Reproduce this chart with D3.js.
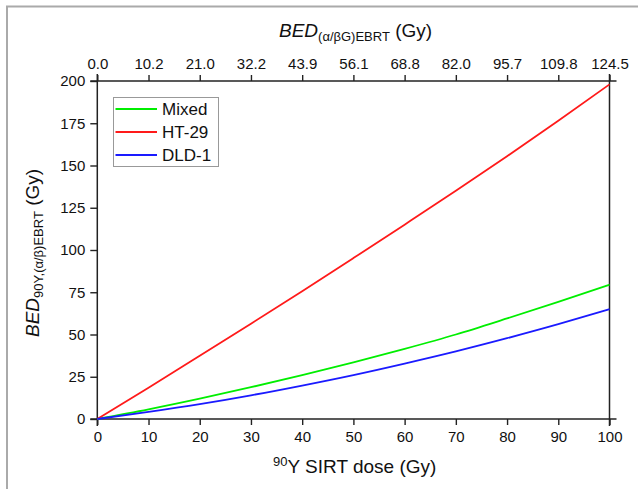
<!DOCTYPE html>
<html>
<head>
<meta charset="utf-8">
<script src="https://cdn.jsdelivr.net/npm/d3@7/dist/d3.min.js"></script>
<style>
body{margin:0;background:#fff;}
svg text{font-family:"Liberation Sans",Arial,sans-serif;fill:#111;}
</style>
</head>
<body>
<svg id="chart" width="638" height="489"></svg>
<script>
const doses = [0,10,20,30,40,50,60,70,80,90,100];
const mixed = [0,5.7,12,18.8,26,33.5,41.5,50,59.5,69.3,79.5];
const ht29  = [0,18.5,37.4,56.4,75.6,95.2,115,135,155.5,176.5,198];
const dld1  = [0,4.2,8.8,14.0,19.8,26,32.8,40,47.8,56.1,65];
const topLabels = ["0.0","10.2","21.0","32.2","43.9","56.1","68.8","82.0","95.7","109.8","124.5"];
const yTicks = [0,25,50,75,100,125,150,175,200];
const seriesNames = ["Mixed","HT-29","DLD-1"];
const seriesColors = ["#00ee00","#ff1a1a","#1a1aff"];
const seriesData = [mixed, ht29, dld1];

const svg = d3.select("#chart");
const L=97.3, R=609.5, T=81, B=419;
const x = d3.scaleLinear().domain([0,100]).range([L,R]);
const y = d3.scaleLinear().domain([0,200]).range([B,T]);

// outer frame
svg.append("path").attr("d","M7,489 L7,6.5 L638,6.5").attr("fill","none").attr("stroke","#aaa").attr("stroke-width",2);

const axisColor="#222";
function styleAxis(g){
  g.select(".domain").remove();
  g.selectAll(".tick line").attr("stroke",axisColor).attr("stroke-width",1.4);
  g.selectAll(".tick text").attr("font-size",15).attr("fill","#111").attr("font-family","Liberation Sans, Arial, sans-serif");
}

// bottom axis
const gb = svg.append("g").attr("transform",`translate(0,${B})`)
  .call(d3.axisBottom(x).tickValues(doses).tickSize(6).tickSizeOuter(0).tickPadding(6));
styleAxis(gb);
// top axis
const gt = svg.append("g").attr("transform",`translate(0,${T})`)
  .call(d3.axisTop(x).tickValues(doses).tickFormat((d,i)=>topLabels[i]).tickSize(6).tickSizeOuter(0).tickPadding(6));
styleAxis(gt);
// left axis
const gl = svg.append("g").attr("transform",`translate(${L},0)`)
  .call(d3.axisLeft(y).tickValues(yTicks).tickSize(7).tickSizeOuter(0).tickPadding(5));
styleAxis(gl);

// axis lines
svg.append("line").attr("x1",L-7).attr("x2",R+7).attr("y1",B).attr("y2",B).attr("stroke",axisColor).attr("stroke-width",1.5);
svg.append("line").attr("x1",L-7).attr("x2",R+7).attr("y1",T).attr("y2",T).attr("stroke",axisColor).attr("stroke-width",1.5);
svg.append("line").attr("x1",L).attr("x2",L).attr("y1",T-7).attr("y2",B+7).attr("stroke",axisColor).attr("stroke-width",1.5);
svg.append("line").attr("x1",R).attr("x2",R).attr("y1",T-7).attr("y2",B+7).attr("stroke",axisColor).attr("stroke-width",1.5);

// data lines
const line = d3.line().x((d,i)=>x(doses[i])).y(d=>y(d)).curve(d3.curveMonotoneX);
seriesData.forEach((s,k)=>{
  svg.append("path").datum(s).attr("d",line).attr("fill","none")
    .attr("stroke",seriesColors[k]).attr("stroke-width",1.8);
});

// legend
svg.append("rect").attr("x",113.5).attr("y",97.5).attr("width",105).attr("height",69)
  .attr("fill","#fff").attr("stroke","#999").attr("stroke-width",1);
const legY=[109,132,155];
seriesNames.forEach((n,k)=>{
  svg.append("line").attr("x1",115.5).attr("x2",157).attr("y1",legY[k]).attr("y2",legY[k])
    .attr("stroke",seriesColors[k]).attr("stroke-width",2);
  svg.append("text").attr("x",162).attr("y",legY[k]+6).attr("font-size",17).text(n);
});

// top title
const tt = svg.append("text").attr("x",279).attr("y",37).attr("font-size",19);
tt.append("tspan").attr("font-style","italic").text("BED");
tt.append("tspan").attr("font-size",13).attr("dy",4).text("(α/βG)EBRT");
tt.append("tspan").attr("dy",-4).text(" (Gy)");

// bottom title
const bt = svg.append("text").attr("x",273).attr("y",473).attr("font-size",19);
bt.append("tspan").attr("font-size",13).attr("dy",-7).text("90");
bt.append("tspan").attr("dy",7).text("Y SIRT dose (Gy)");

// left title
const lt = svg.append("text").attr("transform","translate(39,337) rotate(-90)").attr("font-size",19);
lt.append("tspan").attr("font-style","italic").text("BED");
lt.append("tspan").attr("font-size",13).attr("dy",4).text("90Y,(α/β)EBRT");
lt.append("tspan").attr("dy",-4).text(" (Gy)");
</script>
</body>
</html>
